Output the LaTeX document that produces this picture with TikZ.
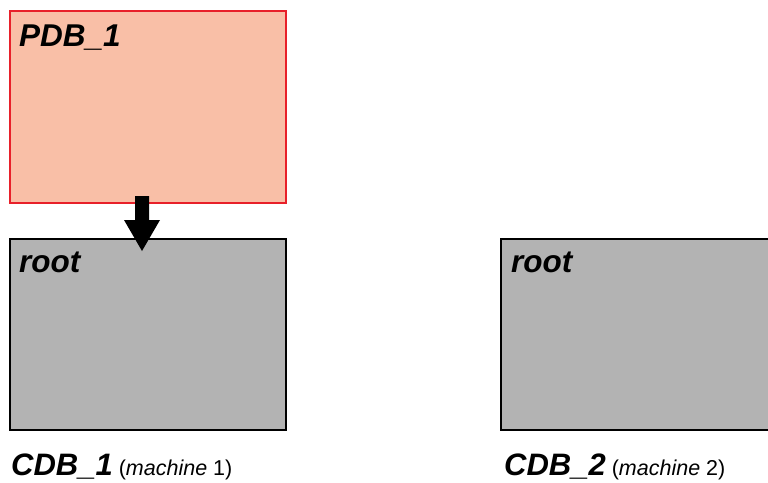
\documentclass[tikz,border=0pt]{standalone}
\usepackage{fontspec}
\setmainfont{Liberation Sans}
\definecolor{pdbfill}{HTML}{F9BFA7}
\definecolor{pdbline}{HTML}{E8202A}
\definecolor{dbgray}{HTML}{B3B3B3}
\begin{document}
\begin{tikzpicture}[x=1pt,y=-1pt,
  dbbox/.style={draw=black,line width=2pt,fill=dbgray},
  pdbbox/.style={draw=pdbline,line width=2pt,fill=pdbfill},
  boxtitle/.style={anchor=base west,inner sep=0pt,font=\fontsize{31.5}{34}\selectfont\bfseries\itshape},
  dblabel/.style={anchor=base west,inner sep=0pt,font=\fontsize{31}{34}\selectfont\bfseries\itshape}]
\useasboundingbox (0,0) rectangle (768,482);
\begin{scope}
\clip (0,0) rectangle (768,482);
\draw[pdbbox] (10,11) rectangle (286,203);
\draw[dbbox] (10,239) rectangle (286,430);
\draw[dbbox] (501,239) rectangle (780,430);
\end{scope}
\node[boxtitle] (pdbt) at (19,46) {PDB\_1};
\node[boxtitle] (r1) at (19,272) {root};
\node[boxtitle] (r2) at (511,272) {root};
\node[dblabel] (c1) at (11,475) {CDB\_1\fontsize{21.5}{24}\selectfont\mdseries\upshape\ (\textit{machine} 1)};
\node[dblabel] (c2) at (504,475) {CDB\_2\fontsize{21.5}{24}\selectfont\mdseries\upshape\ (\textit{machine} 2)};
\fill[black] (135,196) -- (149,196) -- (149,220) -- (160,220) -- (142,251) -- (124,220) -- (135,220) -- cycle;
\end{tikzpicture}
\end{document}
